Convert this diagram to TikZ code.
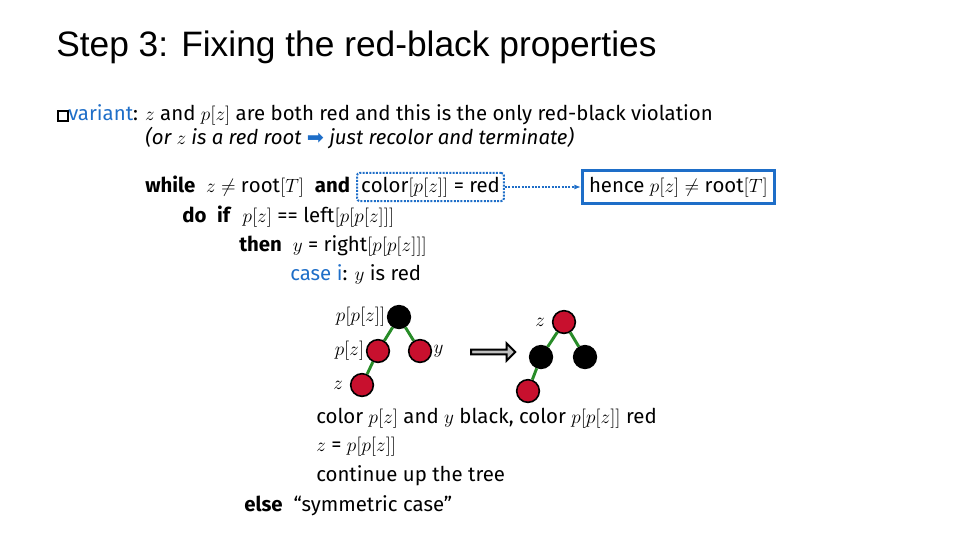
\documentclass[tikz,border=0pt]{standalone}
\usepackage{fontspec}
\setmainfont{Fira Sans}
\newfontfamily\titlefont{Liberation Sans}
\newfontfamily\symfont{DejaVu Sans}
\usetikzlibrary{arrows.meta,shapes.arrows}
\definecolor{cblue}{RGB}{30,110,200}
\definecolor{cred}{RGB}{200,16,46}
\definecolor{cgreen}{RGB}{40,140,40}
\tikzset{
  txt/.style={anchor=west,inner sep=0pt,font=\fontsize{15.3}{17}\selectfont},
  rb/.style={circle,draw=black,line width=1.2pt,fill=cred,minimum size=17pt,inner sep=0pt},
  bb/.style={circle,draw=black,line width=1.2pt,fill=black,minimum size=17pt,inner sep=0pt},
  edge/.style={cgreen,line width=2.2pt},
  lab/.style={inner sep=1pt,font=\fontsize{15}{16}\selectfont}
}
\begin{document}
\begin{tikzpicture}[x=0.75pt,y=-0.75pt]
\useasboundingbox (0,0) rectangle (960,540);
\node[anchor=west,inner sep=0pt,font=\titlefont\fontsize{26.5}{30}\selectfont] (title) at (56,47) {Step 3: Fixing the red-black properties};
\node[draw,inner sep=0pt,minimum width=8pt,minimum height=8pt,line width=1.5pt] (bx) at (63,116) {};
\node[txt] (inv) at (68,115) {\textcolor{cblue}{variant}: $z$ and $p[z]$ are both red and this is the only red-black violation};
\node[txt] (or) at (145,138) {\itshape (or $z$ is a red root \textcolor{cblue}{\symfont\upshape ➡} just recolor and terminate)};
\node[txt] (wh) at (145,187) {\textbf{while}\ \ $z\neq\mathrm{root}[T]$\ \ \textbf{and}};
\node[txt,draw=cblue,densely dotted,line width=1.5pt,inner sep=3pt,rounded corners=2pt] (cond) at (356,187) {$\mathrm{color}\bigl[p[z]\bigr]$ = red};
\node[txt,draw=cblue,line width=2pt,inner sep=5pt] (hence) at (581,187) {hence $p[z]\neq\mathrm{root}[T]$};
\draw[cblue,densely dotted,line width=1.5pt,-{Latex[length=5pt]}] (cond.east) -- (hence.west);
\node[txt] (doif) at (182,217) {\textbf{do}\ \ \textbf{if}\ \ $p[z]$ ==\ $\mathrm{left}[p[p[z]]]$};
\node[txt] (then) at (239,246) {\textbf{then}\ \ $y$ = $\mathrm{right}[p[p[z]]]$};
\node[txt] (case) at (290,274) {\textcolor{cblue}{case i}: $y$ is red};
% left tree
\node[bb] (a) at (399,317) {};
\node[rb] (b) at (378,351) {};
\node[rb] (c) at (420,351) {};
\node[rb] (d) at (362,385) {};
\draw[edge] (a) -- (b); \draw[edge] (a) -- (c); \draw[edge] (b) -- (d);
\node[lab,anchor=east] (la) at (a.west) {$p[p[z]]$};
\node[lab,anchor=east] (lb) at (b.west) {$p[z]$};
\node[lab,anchor=west] (lc) at (c.east) {$y$};
\node[lab,anchor=east] (ld) at ([xshift=-4pt]d.west) {$z$};
% arrow
\node[single arrow,draw=black,fill=gray!50,line width=1.5pt,minimum height=33pt,minimum width=13pt,single arrow head extend=2pt,inner sep=0pt] (arr) at (492,352) {};
% right tree
\node[rb] (e) at (564,322) {};
\node[bb] (f) at (541,357) {};
\node[bb] (g) at (585,357) {};
\node[rb] (h) at (528,391) {};
\draw[edge] (e) -- (f); \draw[edge] (e) -- (g); \draw[edge] (f) -- (h);
\node[lab,anchor=east] (le) at ([xshift=-4pt]e.west) {$z$};
\node[txt] (t1) at (316,418) {color $p[z]$ and $y$ black, color $p[p[z]]$ red};
\node[txt] (t2) at (316,447) {$z$ = $p[p[z]]$};
\node[txt] (t3) at (316,476) {continue up the tree};
\node[txt] (els) at (244,506) {\textbf{else}\ \ “symmetric case”};
\end{tikzpicture}
\end{document}
